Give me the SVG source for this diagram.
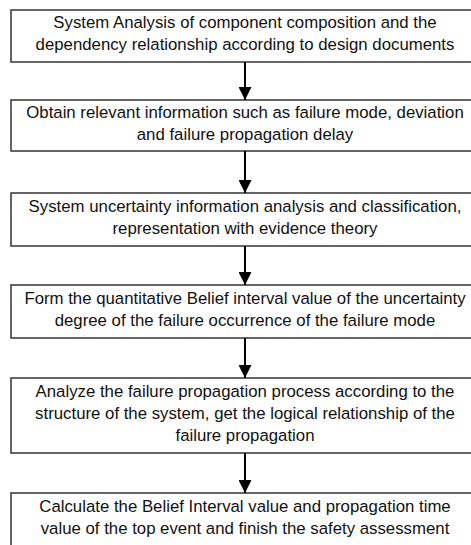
<svg xmlns="http://www.w3.org/2000/svg" width="471" height="545" viewBox="0 0 471 545">
<defs>
<style>
.box{fill:#fff;stroke:#333;stroke-width:1.5}
.t{font-family:"Liberation Sans",Arial,sans-serif;font-size:16.8px;fill:#111;text-anchor:middle}
.c{stroke:#000;stroke-width:2;fill:none}
</style>
<marker id="ah" markerWidth="13" markerHeight="13" refX="13" refY="6.5" orient="auto" markerUnits="userSpaceOnUse">
<path d="M0,0 L13,6.5 L0,13 z" fill="#000"/>
</marker>
</defs>
<rect width="471" height="545" fill="#fff"/>
<g id="n1"><rect class="box" x="11" y="10" width="470" height="52"/>
<text class="t" x="245" y="28">System Analysis of component composition and the</text>
<text class="t" x="245" y="50">dependency relationship according to design documents</text></g>
<g id="n2"><rect class="box" x="11" y="100" width="470" height="51"/>
<text class="t" x="245" y="118">Obtain relevant information such as failure mode, deviation</text>
<text class="t" x="245" y="140">and failure propagation delay</text></g>
<g id="n3"><rect class="box" x="11" y="193" width="470" height="53"/>
<text class="t" x="245" y="212">System uncertainty information analysis and classification,</text>
<text class="t" x="245" y="234">representation with evidence theory</text></g>
<g id="n4"><rect class="box" x="11" y="285" width="470" height="53"/>
<text class="t" x="245" y="304">Form the quantitative Belief interval value of the uncertainty</text>
<text class="t" x="245" y="326">degree of the failure occurrence of the failure mode</text></g>
<g id="n5"><rect class="box" x="11" y="378" width="470" height="75"/>
<text class="t" x="245" y="397">Analyze the failure propagation process according to the</text>
<text class="t" x="245" y="419">structure of the system, get the logical relationship of the</text>
<text class="t" x="245" y="441">failure propagation</text></g>
<g id="n6"><rect class="box" x="11" y="493" width="470" height="60"/>
<text class="t" x="245" y="512">Calculate the Belief Interval value and propagation time</text>
<text class="t" x="245" y="534">value of the top event and finish the safety assessment</text></g>
<g id="connectors">
<line class="c" x1="245" y1="62" x2="245" y2="100" marker-end="url(#ah)"/>
<line class="c" x1="245" y1="151" x2="245" y2="193" marker-end="url(#ah)"/>
<line class="c" x1="245" y1="246" x2="245" y2="285" marker-end="url(#ah)"/>
<line class="c" x1="245" y1="338" x2="245" y2="378" marker-end="url(#ah)"/>
<line class="c" x1="245" y1="453" x2="245" y2="493" marker-end="url(#ah)"/>
</g>
</svg>
